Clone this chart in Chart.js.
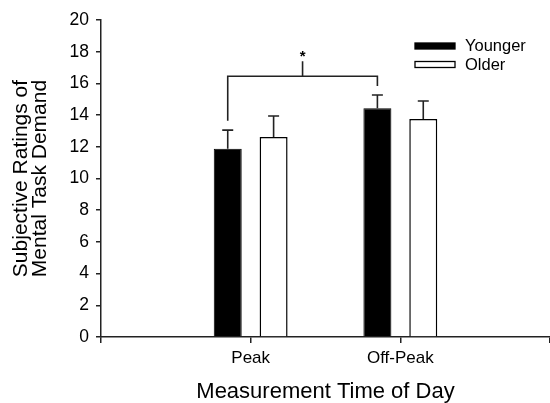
<!DOCTYPE html>
<html>
<head>
<meta charset="utf-8">
<script src="https://cdn.jsdelivr.net/npm/chart.js@4"></script>
<style>
  html, body { margin: 0; padding: 0; background: #fff; }
  #wrap { width: 550px; height: 403px; }
</style>
</head>
<body>
<div id="wrap"><canvas id="barChart"></canvas></div>
<script>
// --- data ---
const categories = ['Peak', 'Off-Peak'];
const groupNames = ['Younger', 'Older'];
const younger = [11.88, 14.43];
const older = [12.62, 13.75];
const youngerErr = [1.17, 0.84];
const olderErr = [1.32, 1.14];
const yTicks = [0, 2, 4, 6, 8, 10, 12, 14, 16, 18, 20];
// significance bracket: left leg foot, right leg foot, bar height, stem top, star
const bracket = [13.65, 15.84, 16.45, 17.4, 17.9];

// empty slots either side so the categories sit like the original
const labels = [''].concat(categories, ['']);
const pad = arr => [null].concat(arr, [null]);

const FONT = '"Liberation Sans", Arial, sans-serif';
const INK = '#222';

// one-sided error whiskers
const errorBars = {
  id: 'errorBars',
  afterDatasetsDraw(chart) {
    const ctx = chart.ctx;
    const y = chart.scales.y;
    const errs = [youngerErr, olderErr];
    ctx.save();
    ctx.strokeStyle = INK;
    ctx.lineWidth = 1.6;
    chart.data.datasets.forEach((ds, di) => {
      const meta = chart.getDatasetMeta(di);
      ds.data.forEach((v, i) => {
        if (v == null) return;
        const bar = meta.data[i];
        const e = errs[di][i - 1];
        const top = y.getPixelForValue(v + e);
        ctx.beginPath();
        ctx.moveTo(bar.x, bar.y);
        ctx.lineTo(bar.x, top);
        ctx.moveTo(bar.x - 5.5, top);
        ctx.lineTo(bar.x + 5.5, top);
        ctx.stroke();
      });
    });
    ctx.restore();
  }
};

// significance bracket between younger Peak and younger Off-Peak
const sigBracket = {
  id: 'sigBracket',
  afterDatasetsDraw(chart) {
    const ctx = chart.ctx;
    const y = chart.scales.y;
    const meta = chart.getDatasetMeta(0);
    const x1 = meta.data[1].x, x2 = meta.data[2].x, xm = (x1 + x2) / 2;
    ctx.save();
    ctx.strokeStyle = INK;
    ctx.lineWidth = 1.6;
    ctx.beginPath();
    ctx.moveTo(x1, y.getPixelForValue(bracket[0]));
    ctx.lineTo(x1, y.getPixelForValue(bracket[2]));
    ctx.lineTo(x2, y.getPixelForValue(bracket[2]));
    ctx.lineTo(x2, y.getPixelForValue(bracket[1]));
    ctx.moveTo(xm, y.getPixelForValue(bracket[2]));
    ctx.lineTo(xm, y.getPixelForValue(bracket[3]));
    ctx.stroke();
    ctx.fillStyle = '#000';
    ctx.font = 'bold 15px ' + FONT;
    ctx.textAlign = 'center';
    ctx.textBaseline = 'middle';
    ctx.fillText('*', xm, y.getPixelForValue(bracket[4]) + 4);
    ctx.restore();
  }
};

// legend box in the upper right of the plot
const boxLegend = {
  id: 'boxLegend',
  afterDraw(chart) {
    const ctx = chart.ctx;
    const left = 415, top = 43;
    ctx.save();
    ctx.font = '16.5px ' + FONT;
    ctx.textBaseline = 'middle';
    chart.data.datasets.forEach((ds, i) => {
      const by = top + i * 18.5;
      ctx.fillStyle = ds.backgroundColor;
      ctx.fillRect(left, by, 40, 6);
      ctx.strokeStyle = '#000';
      ctx.lineWidth = 1.3;
      ctx.strokeRect(left, by, 40, 6);
      ctx.fillStyle = '#000';
      ctx.fillText(ds.label, left + 50, by + 3.5);
    });
    ctx.restore();
  }
};

new Chart(document.getElementById('barChart'), {
  type: 'bar',
  data: {
    labels: labels,
    datasets: [
      { label: groupNames[0], data: pad(younger), backgroundColor: '#000', borderColor: '#000', borderWidth: 1 },
      { label: groupNames[1], data: pad(older), backgroundColor: '#fff', borderColor: '#000', borderWidth: 1.5 }
    ]
  },
  options: {
    responsive: true,
    maintainAspectRatio: false,
    animation: false,
    categoryPercentage: 0.613,
    barPercentage: 0.61,
    layout: { padding: { top: 20, right: 0, left: 0, bottom: 0 } },
    plugins: {
      legend: { display: false },
      tooltip: { enabled: false }
    },
    scales: {
      x: {
        offset: false,
        afterFit(scale) { scale.height = 66; scale.paddingRight = 0; },
        grid: { display: true, offset: false, drawOnChartArea: false, drawTicks: true, tickLength: 6, color: INK, lineWidth: 1.5 },
        border: { display: true, color: INK, width: 1.5 },
        ticks: { color: '#000', font: { family: FONT, size: 17 }, padding: 5, maxRotation: 0, autoSkip: false },
        title: {
          display: true,
          text: 'Measurement Time of Day',
          color: '#000',
          font: { family: FONT, size: 22, lineHeight: 1.0 },
          padding: { top: 4, bottom: 0 }
        }
      },
      y: {
        min: 0,
        max: 20,
        afterFit(scale) { scale.width = 101; },
        afterBuildTicks(scale) { scale.ticks = yTicks.map(v => ({ value: v })); },
        grid: { display: true, drawOnChartArea: false, drawTicks: true, tickLength: 5, color: INK, lineWidth: 1.5 },
        border: { display: true, color: INK, width: 1.5 },
        ticks: { color: '#000', font: { family: FONT, size: 17.5 }, padding: 7 },
        title: {
          display: true,
          text: ['Subjective Ratings of', 'Mental Task Demand'],
          color: '#000',
          font: { family: FONT, size: 21, lineHeight: 0.9 },
          padding: { top: 12, bottom: 0 }
        }
      }
    }
  },
  plugins: [errorBars, sigBracket, boxLegend]
});
</script>
</body>
</html>
